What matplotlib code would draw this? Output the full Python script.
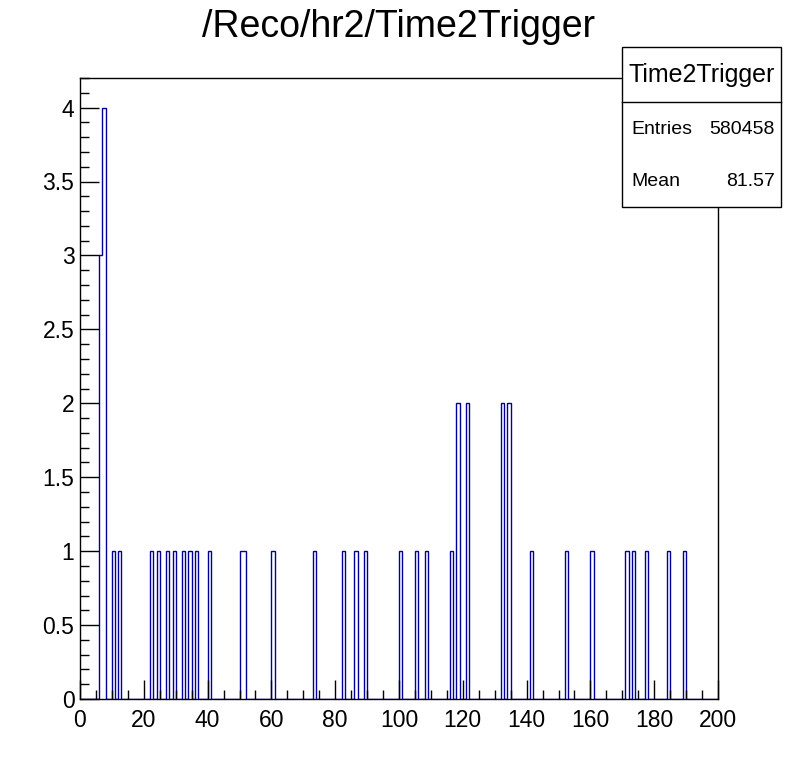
import numpy as np
import matplotlib.pyplot as plt
from matplotlib.patches import Rectangle
from matplotlib.lines import Line2D
from matplotlib.ticker import MultipleLocator, FormatStrFormatter

plt.rcParams['font.family'] = ['Liberation Sans', 'DejaVu Sans']

# histogram data: 200 bins of width 1 from 0 to 200
n_bins = 200
x_min, x_max = 0, 200
filled_bins = [6, 7, 10, 12, 22, 24, 27, 29, 32, 34, 36, 40, 50, 51, 60, 73, 82, 86, 89,
               100, 105, 108, 116, 118, 121, 132, 134, 141, 152, 160, 171, 173, 177, 184, 189]
bin_counts = [3, 4, 1, 1, 1, 1, 1, 1, 1, 1, 1, 1, 1, 1, 1, 1, 1, 1, 1,
              1, 1, 1, 1, 2, 2, 2, 2, 1, 1, 1, 1, 1, 1, 1, 1]

title = '/Reco/hr2/Time2Trigger'
stats_name = 'Time2Trigger'
stats_entries = '580458'
stats_mean = '81.57'

edges = np.linspace(x_min, x_max, n_bins + 1)
counts = np.zeros(n_bins)
counts[filled_bins] = bin_counts

W, H = 798, 776
fig = plt.figure(figsize=(W / 100, H / 100), dpi=100)
# frame in pixels: left 80, right 718, top 78, bottom 699
ax = fig.add_axes([80 / W, (H - 699) / H, 638 / W, 621 / H])

ax.stairs(counts, edges, color='#000099', linewidth=1.0, baseline=0)

ax.set_xlim(x_min, x_max)
ax.set_ylim(0, counts.max() * 1.05)

ax.xaxis.set_major_locator(MultipleLocator(20))
ax.xaxis.set_minor_locator(MultipleLocator(5))
ax.yaxis.set_major_locator(MultipleLocator(0.5))
ax.yaxis.set_minor_locator(MultipleLocator(0.1))
ax.yaxis.set_major_formatter(FormatStrFormatter('%g'))

ax.tick_params(which='both', direction='in', top=False, right=False, width=1, labelsize=16.5)
ax.tick_params(which='major', length=13.5)
ax.tick_params(which='minor', length=6.5)
ax.tick_params(axis='x', pad=7)
ax.tick_params(axis='y', pad=4)
for s in ax.spines.values():
    s.set_linewidth(1)

fig.text(0.5, 1 - 27 / H, title, ha='center', va='center', fontsize=27)

# stats box
bx0, bx1, by0, by1 = 622, 781, 47, 207
fig.add_artist(Rectangle((bx0 / W, 1 - by1 / H), (bx1 - bx0) / W, (by1 - by0) / H,
                         transform=fig.transFigure, facecolor='white', edgecolor='black',
                         linewidth=1, zorder=5))
fig.add_artist(Line2D([bx0 / W, bx1 / W], [1 - 102 / H, 1 - 102 / H],
                      transform=fig.transFigure, color='black', linewidth=1, zorder=6))
fig.text((bx0 + bx1) / 2 / W, 1 - 75 / H, stats_name, ha='center', va='center', fontsize=18, zorder=7)
fig.text(631 / W, 1 - 130 / H, 'Entries', ha='left', va='center', fontsize=14, zorder=7)
fig.text(775 / W, 1 - 130 / H, stats_entries, ha='right', va='center', fontsize=14, zorder=7)
fig.text(631 / W, 1 - 181 / H, 'Mean', ha='left', va='center', fontsize=14, zorder=7)
fig.text(775 / W, 1 - 181 / H, stats_mean, ha='right', va='center', fontsize=14, zorder=7)

fig.savefig('out.png', dpi=100)
